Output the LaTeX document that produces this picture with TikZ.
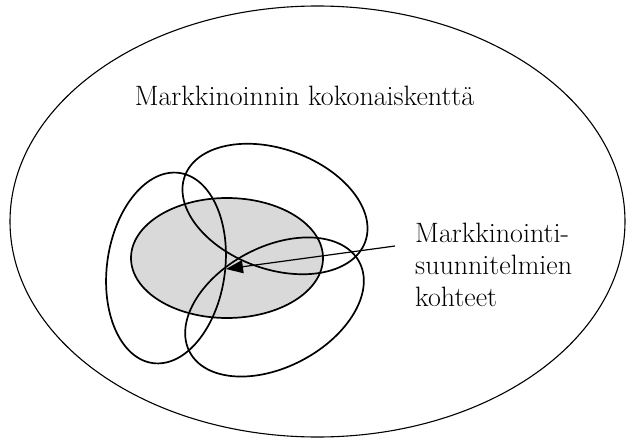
\documentclass[tikz,border=0pt]{standalone}
\usepackage{fontspec}
\usetikzlibrary{arrows.meta}
\tikzset{set/.style={line width=1.7pt},
  label/.style={font=\fontsize{28}{32}\selectfont,inner sep=0pt}}

\begin{document}
\begin{tikzpicture}[x=1pt,y=-1pt]
    \useasboundingbox (0,0) rectangle (627,439);
    \draw[line width=1.1pt] (317.5,221.5) ellipse [x radius=307.5, y radius=215.5];
    \filldraw[set,fill=black!15] (227,258) ellipse [x radius=96, y radius=60];
    \draw[set,rotate around={-8:(166,268)}] (166,268) ellipse [x radius=59, y radius=96];
    \draw[set,rotate around={-20:(275,209)}] (275,209) ellipse [x radius=96, y radius=60];
    \draw[set,rotate around={28:(274.5,307)}] (274.5,307) ellipse [x radius=96, y radius=60];
    \node[label,anchor=base] (field) at (304.5,105) {Markkinoinnin kokonaiskenttä}; %label
    \node[label,anchor=north west,align=left] (targets) at (415,223) {Markkinointi-\\suunnitelmien\\kohteet}; %label
    \coordinate (from) at (395,246);
    \coordinate (core) at (226,269);
    \draw[line width=1.2pt,-{Triangle[length=17pt,width=13pt]}] (from) -- (core);
\end{tikzpicture}
\end{document}
